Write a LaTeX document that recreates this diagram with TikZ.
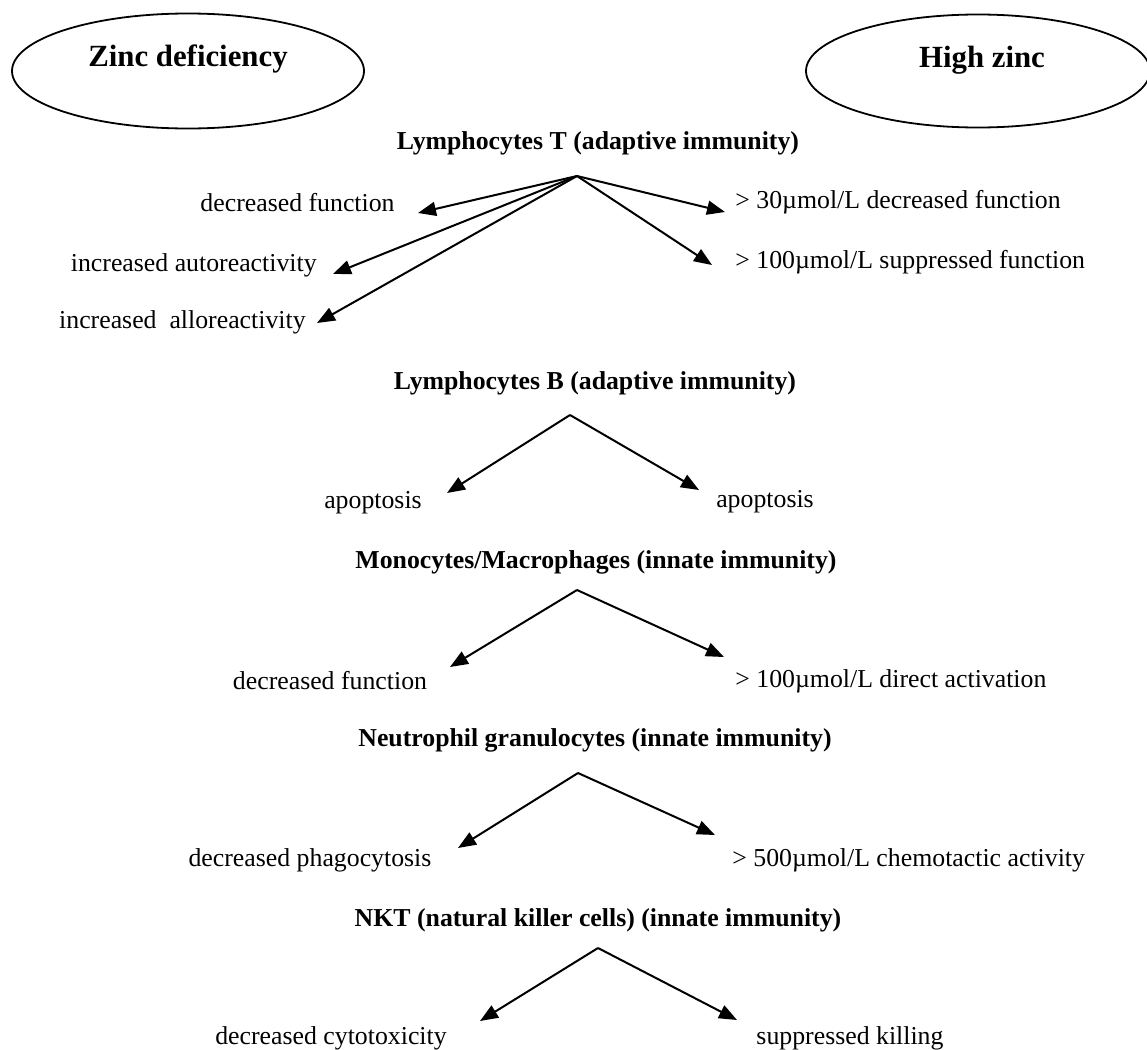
\documentclass[tikz,border=0pt]{standalone}
\usepackage{fontspec}
\setmainfont{Liberation Serif}
\usepackage{tikz}
\usetikzlibrary{arrows.meta,shapes.geometric}

\begin{document}
\begin{tikzpicture}[x=0.5pt,y=-0.5pt,
  txt/.style={inner sep=0pt,font=\fontsize{12.9}{15}\selectfont},
  hdr/.style={txt,font=\fontsize{12.9}{15}\selectfont\bfseries},
  ttl/.style={inner sep=0pt,font=\fontsize{15.4}{18}\selectfont\bfseries},
  oval/.style={ellipse,draw,line width=0.9pt,inner sep=0pt},
  arr/.style={line width=1pt,-{Triangle[length=9pt,width=7pt]}}]

\useasboundingbox (0,0) rectangle (1147,1050);

% zinc status
\node[oval,minimum width=176pt,minimum height=57.5pt] (zdOval) at (188,71) {};
\node[ttl] (zd) at (188,59) {Zinc deficiency};
\node[oval,minimum width=172pt,minimum height=56.5pt] (hzOval) at (978,71) {};
\node[ttl] (hz) at (982,60) {High zinc};

% lymphocytes T
\node[hdr] (lt) at (598,143) {Lymphocytes T (adaptive immunity)};
\coordinate (ltFork) at (577,176);
\node[txt,anchor=east] (ltDec) at (395,203) {decreased function};
\node[txt,anchor=east] (ltAuto) at (317,265) {increased autoreactivity};
\node[txt,anchor=east] (ltAllo) at (306,322) {increased\ \ alloreactivity};
\node[txt,anchor=west] (ltHi1) at (735,202) {> 30µmol/L decreased function};
\node[txt,anchor=west] (ltHi2) at (735,262) {> 100µmol/L suppressed function};
\coordinate (ltDecTip) at (418,213);
\coordinate (ltAutoTip) at (333,274);
\coordinate (ltAlloTip) at (317,323);
\coordinate (ltHi1Tip) at (725,212);
\coordinate (ltHi2Tip) at (712,265);
\draw[arr] (ltFork) -- (ltDecTip);
\draw[arr] (ltFork) -- (ltAutoTip);
\draw[arr] (ltFork) -- (ltAlloTip);
\draw[arr] (ltFork) -- (ltHi1Tip);
\draw[arr] (ltFork) -- (ltHi2Tip);

% lymphocytes B
\node[hdr] (lb) at (595,383) {Lymphocytes B (adaptive immunity)};
\coordinate (lbFork) at (570,415);
\node[txt] (lbLo) at (373,503) {apoptosis};
\node[txt] (lbHi) at (765,502) {apoptosis};
\coordinate (lbLoTip) at (447,493);
\coordinate (lbHiTip) at (699,490);
\draw[arr] (lbFork) -- (lbLoTip);
\draw[arr] (lbFork) -- (lbHiTip);

% monocytes / macrophages
\node[hdr] (mo) at (596,562) {Monocytes/Macrophages (innate immunity)};
\coordinate (moFork) at (577,590);
\node[txt] (moLo) at (330,681) {decreased function};
\node[txt,anchor=west] (moHi) at (735,681) {> 100µmol/L direct activation};
\coordinate (moLoTip) at (450,667);
\coordinate (moHiTip) at (724,657);
\draw[arr] (moFork) -- (moLoTip);
\draw[arr] (moFork) -- (moHiTip);

% neutrophils
\node[hdr] (ne) at (595,740) {Neutrophil granulocytes (innate immunity)};
\coordinate (neFork) at (578,773);
\node[txt] (neLo) at (310,860) {decreased phagocytosis};
\node[txt,anchor=west] (neHi) at (732,860) {> 500µmol/L chemotactic activity};
\coordinate (neLoTip) at (458,848);
\coordinate (neHiTip) at (715,835);
\draw[arr] (neFork) -- (neLoTip);
\draw[arr] (neFork) -- (neHiTip);

% NKT
\node[hdr] (nk) at (598,920) {NKT (natural killer cells) (innate immunity)};
\coordinate (nkFork) at (598,948);
\node[txt] (nkLo) at (331,1038) {decreased cytotoxicity};
\node[txt] (nkHi) at (850,1038) {suppressed killing};
\coordinate (nkLoTip) at (480,1021);
\coordinate (nkHiTip) at (737,1020);
\draw[arr] (nkFork) -- (nkLoTip);
\draw[arr] (nkFork) -- (nkHiTip);

\end{tikzpicture}
\end{document}
